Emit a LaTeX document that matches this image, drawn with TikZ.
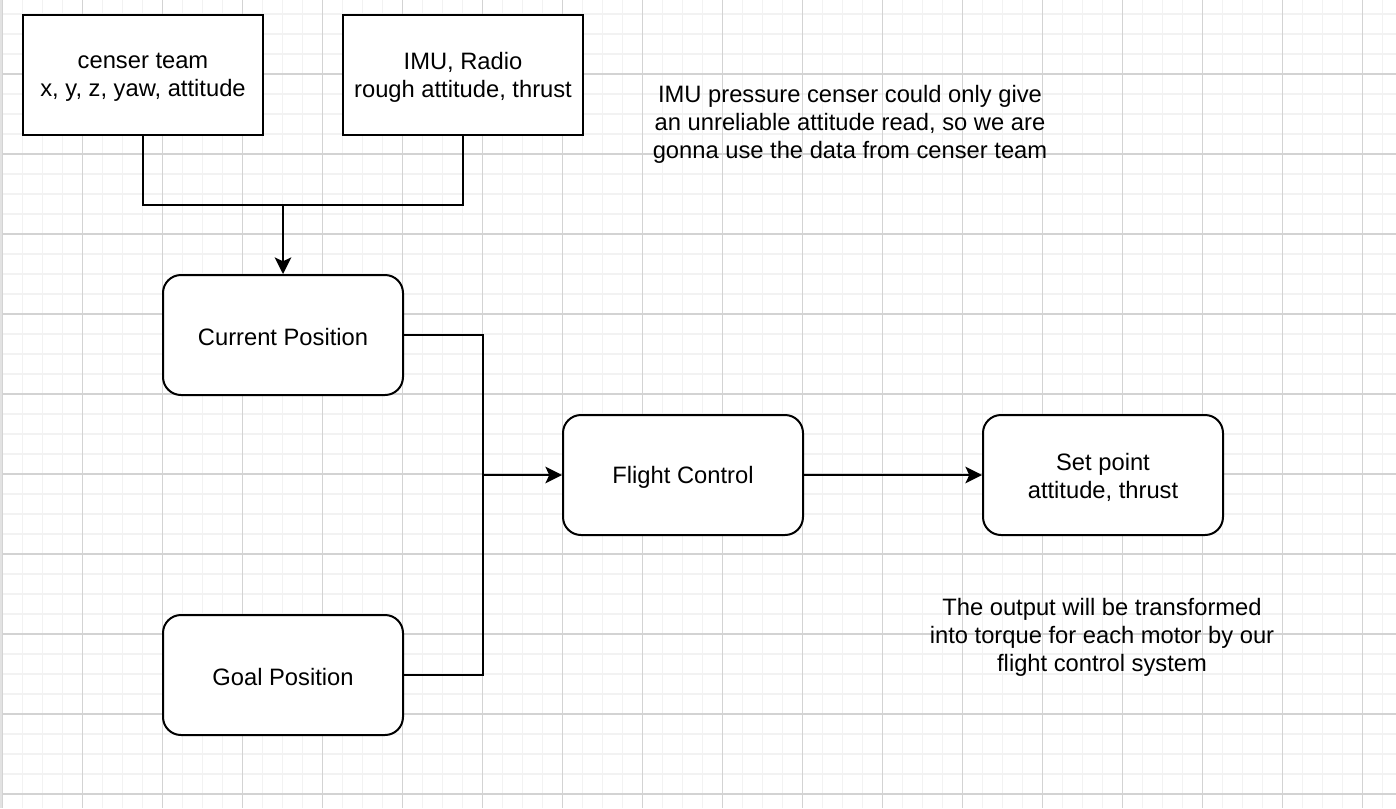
\documentclass[tikz,border=0pt]{standalone}
\usepackage{fontspec}
\setmainfont{Liberation Sans}
\usetikzlibrary{arrows.meta}
\definecolor{gridminor}{HTML}{F2F2F2}
\definecolor{gridmajor}{HTML}{D3D3D3}
\definecolor{edgestrip}{HTML}{E2E2E2}
\begin{document}
\begin{tikzpicture}[x=0.75pt,y=-0.75pt,
  txt/.style={font=\fontsize{17.8}{21}\selectfont},
  box/.style={draw=black, line width=1.5pt, fill=white, minimum width=180pt, minimum height=90pt, inner sep=0pt},
  rbox/.style={box, rounded corners=13.5pt},
  lbl/.style={txt, align=center, inner sep=0pt},
  note/.style={txt, align=center, inner sep=0pt},
  link/.style={line width=1.5pt, draw=black},
  arr/.style={link, -{Stealth[length=12.5pt,width=12.5pt,inset=3pt]}},
  minorline/.style={draw=gridminor, line width=1.2pt},
  majorline/.style={draw=gridmajor, line width=0.9pt}]
\useasboundingbox (0,0) rectangle (1396,808);
\fill[white] (0,0) rectangle (1396,808);
% grid
\foreach \x in {22.5,42.5,...,1396} {\draw[minorline] (\x,0) -- (\x,808);}
\foreach \y in {14,34,...,808} {\draw[minorline] (0,\y) -- (1396,\y);}
\foreach \x in {2.5,82.5,...,1396} {\draw[majorline] (\x,0) -- (\x,808);}
\foreach \y in {74,154,...,808} {\draw[majorline] (0,\y) -- (1396,\y);}
\fill[edgestrip] (0,0) rectangle (2,808);
% nodes
\node[box, label={[lbl, yshift=-1.5pt]center:censer team\\x, y, z, yaw, attitude}] (cs) at (143,75) {};
\node[box, label={[lbl, yshift=-1.5pt]center:IMU, Radio\\rough attitude, thrust}] (imu) at (463,75) {};
\node[rbox, label={[lbl, yshift=-1.5pt]center:Current Position}] (cur) at (283,335) {};
\node[rbox, label={[lbl, yshift=-1.5pt]center:Goal Position}] (goal) at (283,675) {};
\node[rbox, label={[lbl, yshift=-1.5pt]center:Flight Control}] (fc) at (683,475) {};
\node[rbox, label={[lbl, yshift=-1.5pt]center:Set point\\attitude, thrust}] (sp) at (1103,475) {};
\node[note] (n1) at (850,124.5) {IMU pressure censer could only give\\an unreliable attitude read, so we are\\gonna use the data from censer team};
\node[note] (n2) at (1102,637.5) {The output will be transformed\\into torque for each motor by our\\flight control system};
% junctions
\coordinate (j1) at (283,205);
\coordinate (j2) at (483,475);
% connectors
\draw[link] (cs.south) -- (cs.south |- j1) -- (imu.south |- j1) -- (imu.south);
\draw[arr] (j1) -- (cur.north);
\draw[link] (cur.east) -| (j2);
\draw[link] (goal.east) -| (j2);
\draw[arr] (j2) -- (fc.west);
\draw[arr] (fc.east) -- (sp.west);
\end{tikzpicture}
\end{document}
